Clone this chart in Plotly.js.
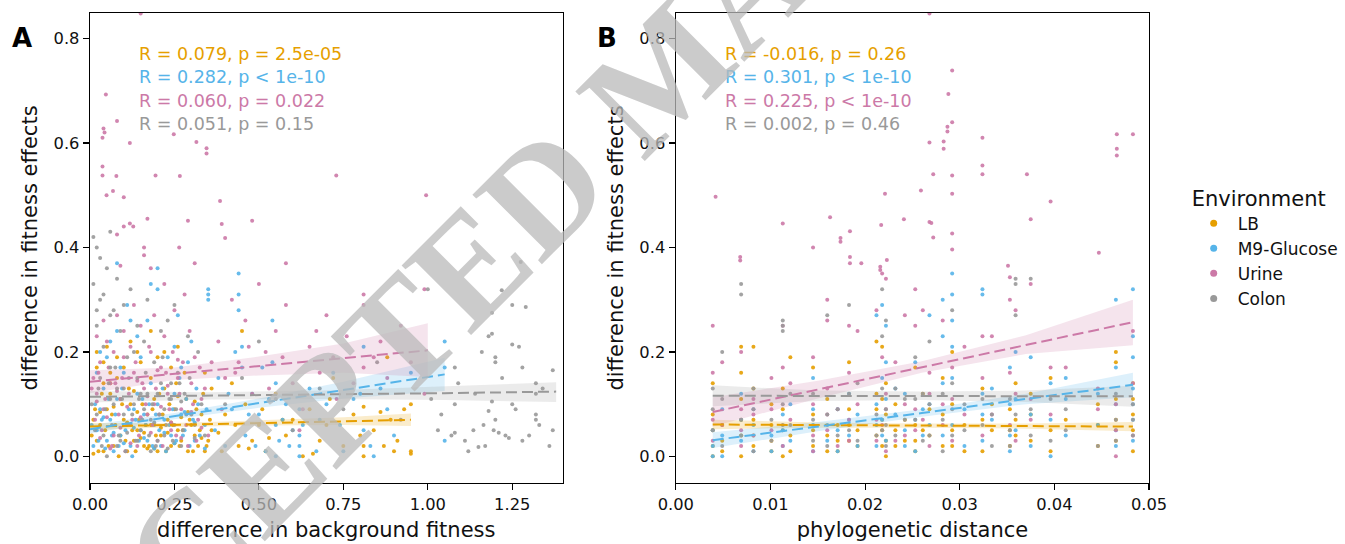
<!DOCTYPE html>
<html>
<head>
<meta charset="utf-8">
<script src="https://cdn.plot.ly/plotly-3.0.1.min.js"></script>
<style>html,body{margin:0;padding:0;background:#fff;}#chart{width:1345px;height:544px;}</style>
</head>
<body>
<div id="chart"></div>
<script>
// ---------- categories ----------
const environments = ["LB", "M9-Glucose", "Urine", "Colon"];
const envColors = ["#E69F00", "#56B4E9", "#CC79A7", "#999999"];

// ---------- panel A points: [difference in background fitness, difference in fitness effects] ----------
const lbA = [[0.01,0.005],[0.02,0.03],[0.03,0.06],[0.04,0.01],[0.05,0.09],[0.06,0.12],[0.07,0.02],[0.08,0.15],[0.09,0.04],[0.10,0.07],[0.11,0.01],[0.12,0.10],[0.13,0.03],[0.14,0.05],[0.15,0.18],[0.16,0.02],[0.17,0.08],[0.18,0.06],[0.19,0.11],[0.20,0.01],[0.21,0.04],[0.22,0.13],[0.23,0.07],[0.24,0.02],[0.25,0.09],[0.26,0.05],[0.27,0.03],[0.28,0.16],[0.29,0.01],[0.30,0.06],[0.31,0.04],[0.32,0.02],[0.33,0.08],[0.34,0.01],[0.35,0.03],[0.36,0.05],[0.02,0.17],[0.05,0.21],[0.08,0.19],[0.12,0.22],[0.18,0.24],[0.22,0.20],[0.03,0.085],[0.07,0.095],[0.11,0.065],[0.15,0.035],[0.19,0.015],[0.23,0.045],[0.27,0.075],[0.31,0.105],[0.04,0.14],[0.09,0.11],[0.13,0.125],[0.17,0.015],[0.21,0.055],[0.25,0.025],[0.29,0.085],[0.33,0.035],[0.38,0.045],[0.40,0.08],[0.42,0.14],[0.44,0.02],[0.46,0.10],[0.48,0.03],[0.50,0.06],[0.52,0.01],[0.55,0.12],[0.58,0.04],[0.60,0.07],[0.63,0.0],[0.65,0.09],[0.68,0.03],[0.70,0.06],[0.72,0.15],[0.75,0.02],[0.78,0.08],[0.81,0.0],[0.81,0.02],[0.81,0.095],[0.84,0.05],[0.87,0.02],[0.88,0.19],[0.89,0.07],[0.90,0.01],[0.95,0.005],[0.95,0.10],[0.95,0.01],[0.93,0.09],[0.45,0.24],[0.36,0.13],[0.06,0.14],[0.01,0.07],[0.14,0.085],[0.26,0.115],[0.34,0.16],[0.16,0.045],[0.24,0.065]];
const lbA2 = [[0.005,0.04],[0.015,0.09],[0.025,0.01],[0.035,0.12],[0.045,0.05],[0.055,0.02],[0.065,0.08],[0.075,0.06],[0.085,0.0],[0.095,0.10],[0.105,0.03],[0.115,0.13],[0.125,0.05],[0.135,0.01],[0.145,0.07],[0.155,0.10],[0.165,0.06],[0.175,0.02],[0.185,0.09],[0.195,0.04],[0.205,0.12],[0.215,0.08],[0.225,0.01],[0.235,0.10],[0.245,0.06],[0.255,0.14],[0.265,0.02],[0.275,0.05],[0.285,0.11],[0.295,0.07],[0.305,0.01],[0.315,0.09],[0.325,0.05],[0.335,0.12],[0.345,0.02],[0.355,0.07],[0.02,0.20],[0.04,0.18],[0.06,0.16],[0.10,0.17],[0.14,0.20],[0.18,0.15],[0.20,0.19],[0.24,0.17],[0.26,0.21],[0.39,0.01],[0.43,0.06],[0.47,0.015],[0.51,0.09],[0.53,0.035],[0.57,0.07],[0.66,0.005],[0.71,0.11],[0.80,0.04],[0.86,0.085],[0.91,0.03]];
const m9A = [[0.01,0.02],[0.02,0.05],[0.03,0.09],[0.04,0.13],[0.05,0.03],[0.06,0.07],[0.07,0.01],[0.08,0.11],[0.09,0.04],[0.10,0.16],[0.11,0.06],[0.12,0.02],[0.13,0.09],[0.14,0.12],[0.15,0.05],[0.16,0.08],[0.17,0.03],[0.18,0.14],[0.19,0.06],[0.20,0.10],[0.21,0.02],[0.22,0.07],[0.23,0.19],[0.24,0.04],[0.25,0.12],[0.26,0.27],[0.27,0.08],[0.28,0.05],[0.30,0.22],[0.31,0.03],[0.32,0.10],[0.34,0.06],[0.35,0.30],[0.35,0.31],[0.35,0.32],[0.38,0.15],[0.40,0.02],[0.42,0.09],[0.44,0.35],[0.44,0.28],[0.45,0.21],[0.45,0.17],[0.46,0.04],[0.48,0.12],[0.50,0.08],[0.52,0.01],[0.54,0.26],[0.54,0.18],[0.55,0.14],[0.55,0.06],[0.55,0.0],[0.56,0.03],[0.58,0.10],[0.60,0.05],[0.62,0.0],[0.62,0.02],[0.62,0.04],[0.62,0.09],[0.65,0.13],[0.68,0.07],[0.72,0.16],[0.75,0.01],[0.78,0.11],[0.81,0.21],[0.81,0.05],[0.84,0.0],[0.86,0.13],[0.90,0.04],[0.95,0.16],[1.05,0.22],[1.05,0.03],[1.05,0.17],[0.02,0.16],[0.05,0.19],[0.08,0.24],[0.11,0.29],[0.14,0.23],[0.17,0.26],[0.20,0.32],[0.29,0.18],[0.04,0.075],[0.07,0.045],[0.10,0.025],[0.13,0.055],[0.16,0.035],[0.19,0.015],[0.22,0.045],[0.25,0.025],[0.28,0.085],[0.31,0.065],[0.34,0.015],[0.18,0.33],[0.08,0.37],[0.44,0.31],[0.20,0.36]];
const m9A2 = [[0.005,0.06],[0.015,0.10],[0.025,0.03],[0.035,0.07],[0.045,0.015],[0.055,0.11],[0.065,0.04],[0.075,0.08],[0.085,0.02],[0.095,0.13],[0.105,0.05],[0.115,0.09],[0.125,0.0],[0.135,0.07],[0.145,0.03],[0.155,0.11],[0.165,0.06],[0.175,0.10],[0.185,0.02],[0.195,0.08],[0.205,0.05],[0.215,0.13],[0.225,0.01],[0.235,0.06],[0.245,0.09],[0.255,0.03],[0.265,0.15],[0.275,0.04],[0.285,0.11],[0.295,0.02],[0.305,0.07],[0.315,0.13],[0.325,0.04],[0.345,0.09],[0.03,0.20],[0.06,0.22],[0.09,0.17],[0.12,0.26],[0.15,0.19],[0.25,0.21],[0.27,0.17],[0.37,0.05],[0.41,0.12],[0.43,0.20],[0.47,0.08],[0.49,0.02],[0.51,0.17],[0.53,0.11],[0.57,0.07],[0.59,0.02],[0.63,0.06],[0.67,0.01],[0.70,0.10],[0.74,0.06],[0.80,0.12],[0.83,0.02],[0.88,0.09]];
const urineA = [[0.047,0.693],[0.04,0.628],[0.043,0.62],[0.037,0.61],[0.08,0.642],[0.118,0.60],[0.037,0.555],[0.037,0.538],[0.078,0.537],[0.194,0.538],[0.266,0.537],[0.049,0.50],[0.068,0.508],[0.10,0.496],[0.315,0.602],[0.345,0.58],[0.345,0.59],[0.248,0.617],[0.385,0.489],[0.729,0.538],[0.995,0.50],[0.118,0.446],[0.128,0.44],[0.17,0.455],[0.29,0.451],[0.39,0.445],[0.40,0.418],[0.48,0.451],[0.08,0.425],[0.10,0.44],[0.16,0.40],[0.16,0.385],[0.264,0.40],[0.31,0.37],[0.18,0.36],[0.58,0.37],[0.09,0.365],[0.15,0.848],
[0.01,0.15],[0.02,0.12],[0.03,0.18],[0.04,0.09],[0.05,0.22],[0.06,0.14],[0.07,0.04],[0.08,0.27],[0.09,0.11],[0.10,0.19],[0.11,0.06],[0.12,0.21],[0.13,0.16],[0.14,0.02],[0.15,0.25],[0.16,0.13],[0.17,0.08],[0.18,0.20],[0.19,0.10],[0.20,0.03],[0.21,0.17],[0.22,0.23],[0.23,0.12],[0.24,0.05],[0.25,0.28],[0.26,0.15],[0.27,0.09],[0.28,0.31],[0.29,0.02],[0.30,0.14],[0.31,0.19],[0.32,0.07],[0.33,0.11],[0.35,0.04],[0.38,0.22],[0.40,0.15],[0.42,0.30],[0.44,0.18],[0.46,0.26],[0.48,0.12],[0.50,0.33],[0.52,0.20],[0.55,0.24],[0.58,0.29],[0.60,0.14],[0.62,0.05],[0.65,0.21],[0.68,0.16],[0.70,0.27],[0.73,0.11],[0.76,0.23],[0.81,0.29],[0.81,0.31],[0.81,0.17],[0.84,0.19],[0.88,0.15],[0.92,0.25],[0.99,0.32],[0.99,0.12],[0.03,0.035],[0.06,0.015],[0.09,0.055],[0.12,0.025],[0.15,0.075],[0.18,0.045],[0.21,0.095],[0.24,0.065],[0.27,0.035],[0.30,0.085],[0.33,0.055],[0.02,0.105],[0.05,0.075],[0.08,0.125],[0.11,0.095],[0.14,0.145],[0.17,0.115],[0.20,0.165],[0.23,0.135],[0.26,0.185]];
const urineA2 = [[0.005,0.13],[0.015,0.07],[0.025,0.16],[0.035,0.05],[0.045,0.11],[0.055,0.17],[0.065,0.02],[0.075,0.14],[0.085,0.08],[0.095,0.15],[0.105,0.01],[0.115,0.12],[0.125,0.07],[0.135,0.18],[0.145,0.04],[0.155,0.14],[0.165,0.10],[0.175,0.21],[0.185,0.06],[0.195,0.13],[0.205,0.08],[0.215,0.02],[0.225,0.16],[0.235,0.09],[0.245,0.20],[0.255,0.04],[0.265,0.12],[0.275,0.18],[0.285,0.06],[0.295,0.24],[0.305,0.10],[0.315,0.03],[0.325,0.17],[0.34,0.13],[0.02,0.23],[0.04,0.26],[0.07,0.20],[0.10,0.24],[0.13,0.29],[0.19,0.27],[0.22,0.33],[0.36,0.18],[0.39,0.09],[0.43,0.16],[0.47,0.21],[0.53,0.13],[0.57,0.19],[0.63,0.09],[0.67,0.24],[0.72,0.19],[0.78,0.14],[0.86,0.22],[0.95,0.18]];
const colonA = [[1.275,0.372],[1.219,0.318],[1.25,0.29],[1.29,0.286],[1.19,0.275],[1.19,0.235],[1.18,0.23],[1.16,0.20],[1.20,0.19],[1.20,0.18],[1.25,0.214],[1.27,0.21],[1.28,0.17],[1.37,0.165],[1.32,0.14],[1.32,0.12],[1.19,0.105],[1.18,0.087],[1.25,0.10],[1.32,0.08],[1.32,0.07],[1.20,0.07],[1.165,0.06],[1.195,0.05],[1.21,0.045],[1.23,0.04],[1.24,0.035],[1.135,0.05],[1.15,0.018],[1.37,0.05],[1.08,0.17],[1.08,0.10],[1.08,0.045],[1.03,0.05],[1.00,0.32],[1.07,0.04],[1.12,0.01],[1.33,0.06],
[0.01,0.33],[0.02,0.25],[0.03,0.30],[0.04,0.21],[0.05,0.36],[0.06,0.17],[0.07,0.28],[0.08,0.13],[0.09,0.24],[0.10,0.08],[0.11,0.19],[0.12,0.32],[0.13,0.10],[0.14,0.15],[0.15,0.05],[0.16,0.22],[0.17,0.12],[0.18,0.07],[0.19,0.18],[0.20,0.03],[0.21,0.14],[0.22,0.09],[0.23,0.26],[0.24,0.11],[0.25,0.06],[0.26,0.16],[0.27,0.02],[0.28,0.12],[0.30,0.08],[0.32,0.20],[0.34,0.04],[0.02,0.08],[0.04,0.04],[0.06,0.11],[0.08,0.02],[0.10,0.13],[0.12,0.06],[0.14,0.03],[0.16,0.09],[0.18,0.01],[0.20,0.12],[0.22,0.04],[0.24,0.14],[0.03,0.15],[0.07,0.10],[0.11,0.045],[0.15,0.12],[0.19,0.065],[0.23,0.015],[0.27,0.105],[0.31,0.035],[0.05,0.0],[0.09,0.03],[0.13,0.20],[0.40,0.10],[0.45,0.15],[0.50,0.22],[0.55,0.11],[0.60,0.05],[0.68,0.13],[0.75,0.09],[0.85,0.18],[0.92,0.07],[0.01,0.42],[0.02,0.40],[0.03,0.38],[0.06,0.43]];
const colonA2 = [[0.005,0.10],[0.015,0.05],[0.025,0.13],[0.035,0.02],[0.045,0.09],[0.055,0.14],[0.065,0.06],[0.075,0.17],[0.085,0.04],[0.095,0.11],[0.105,0.01],[0.115,0.15],[0.125,0.08],[0.135,0.03],[0.145,0.11],[0.155,0.07],[0.165,0.16],[0.175,0.04],[0.185,0.10],[0.195,0.02],[0.205,0.08],[0.215,0.19],[0.225,0.06],[0.235,0.11],[0.245,0.03],[0.255,0.09],[0.265,0.14],[0.275,0.05],[0.285,0.08],[0.295,0.15],[0.31,0.06],[0.33,0.10],[0.02,0.28],[0.04,0.31],[0.06,0.27],[0.08,0.34],[0.10,0.29],[0.14,0.25],[0.17,0.30],[0.21,0.24],[0.25,0.29],[0.29,0.23],[1.01,0.11],[1.04,0.08],[1.09,0.14],[1.11,0.03],[1.14,0.12],[1.22,0.15],[1.26,0.09],[1.30,0.04],[1.34,0.13],[1.36,0.02],[1.28,0.03],[1.17,0.02]];

// ---------- panel B points: [phylogenetic distance, difference in fitness effects] ----------
const lbB = [[0.0039,0.0],[0.0039,0.02],[0.0039,0.14],[0.0039,0.05],[0.0049,0.01],[0.0049,0.03],[0.0069,0.21],[0.0069,0.16],[0.0069,0.11],[0.0069,0.04],[0.0069,0.0],[0.0082,0.21],[0.0082,0.13],[0.0082,0.07],[0.0082,0.02],[0.0101,0.01],[0.0101,0.06],[0.0101,0.10],[0.0113,0.0],[0.0113,0.13],[0.0113,0.09],[0.0121,0.19],[0.0121,0.04],[0.0145,0.02],[0.0145,0.08],[0.0145,0.17],[0.016,0.04],[0.016,0.11],[0.0171,0.01],[0.0171,0.06],[0.0183,0.18],[0.0183,0.03],[0.0183,0.09],[0.0192,0.05],[0.0212,0.22],[0.0212,0.12],[0.0218,0.21],[0.0218,0.02],[0.0218,0.07],[0.0222,0.14],[0.0222,0.0],[0.0232,0.05],[0.0232,0.10],[0.0242,0.03],[0.0253,0.17],[0.0253,0.01],[0.0253,0.06],[0.0261,0.12],[0.0268,0.04],[0.0282,0.15],[0.0282,0.08],[0.0292,0.02],[0.0292,0.20],[0.0292,0.10],[0.0305,0.06],[0.0324,0.13],[0.0324,0.01],[0.0334,0.05],[0.0353,0.09],[0.0353,0.02],[0.0359,0.14],[0.0359,0.04],[0.0375,0.03],[0.0375,0.08],[0.0396,0.15],[0.0396,0.01],[0.0412,0.07],[0.0446,0.02],[0.0446,0.06],[0.0465,0.20],[0.0465,0.18],[0.0465,0.11],[0.0465,0.03],[0.0483,0.14],[0.0483,0.05],[0.0483,0.01],[0.0483,0.08]];
const lbB2 = [[0.0039,0.08],[0.0049,0.06],[0.0069,0.07],[0.0082,0.04],[0.0101,0.03],[0.0113,0.05],[0.0121,0.01],[0.0145,0.05],[0.016,0.01],[0.0171,0.03],[0.0183,0.06],[0.0192,0.02],[0.0212,0.04],[0.0212,0.09],[0.0218,0.05],[0.0218,0.11],[0.0222,0.03],[0.0222,0.08],[0.0232,0.02],[0.0242,0.07],[0.0253,0.03],[0.0261,0.05],[0.0268,0.09],[0.0282,0.02],[0.0292,0.05],[0.0305,0.01],[0.0324,0.07],[0.0334,0.10],[0.0353,0.05],[0.0359,0.07],[0.0375,0.12],[0.0396,0.05],[0.0446,0.10],[0.0465,0.07],[0.0483,0.11]];
const m9B = [[0.0039,0.0],[0.0039,0.05],[0.0049,0.0],[0.0049,0.09],[0.0069,0.03],[0.0069,0.12],[0.0082,0.06],[0.0082,0.01],[0.0101,0.04],[0.0113,0.08],[0.0113,0.02],[0.0121,0.10],[0.0145,0.15],[0.0145,0.01],[0.0145,0.06],[0.016,0.03],[0.0171,0.09],[0.0171,0.05],[0.0183,0.07],[0.0183,0.12],[0.0192,0.02],[0.0212,0.27],[0.0212,0.06],[0.0218,0.29],[0.0218,0.15],[0.0218,0.04],[0.0222,0.11],[0.0222,0.25],[0.0232,0.08],[0.0242,0.12],[0.0242,0.02],[0.0253,0.18],[0.0253,0.07],[0.0261,0.04],[0.0268,0.27],[0.0268,0.10],[0.0282,0.30],[0.0282,0.23],[0.0282,0.14],[0.0292,0.35],[0.0292,0.31],[0.0292,0.26],[0.0292,0.21],[0.0292,0.06],[0.0305,0.09],[0.0324,0.32],[0.0324,0.31],[0.0324,0.12],[0.0324,0.03],[0.0334,0.07],[0.0353,0.17],[0.0353,0.10],[0.0353,0.01],[0.0359,0.20],[0.0359,0.05],[0.0375,0.19],[0.0375,0.08],[0.0396,0.14],[0.0396,0.0],[0.0412,0.11],[0.0412,0.04],[0.0446,0.06],[0.0465,0.30],[0.0465,0.17],[0.0465,0.10],[0.0465,0.02],[0.0483,0.32],[0.0483,0.23],[0.0483,0.19],[0.0483,0.13],[0.0483,0.07],[0.0483,0.03]];
const m9B2 = [[0.0039,0.02],[0.0049,0.04],[0.0069,0.07],[0.0082,0.09],[0.0101,0.01],[0.0113,0.05],[0.0121,0.03],[0.0145,0.09],[0.016,0.06],[0.0171,0.01],[0.0183,0.04],[0.0192,0.08],[0.0212,0.02],[0.0212,0.10],[0.0218,0.07],[0.0222,0.03],[0.0222,0.18],[0.0232,0.13],[0.0242,0.05],[0.0253,0.01],[0.0261,0.09],[0.0268,0.06],[0.0282,0.04],[0.0292,0.15],[0.0305,0.02],[0.0324,0.08],[0.0334,0.13],[0.0353,0.04],[0.0359,0.11],[0.0375,0.02],[0.0396,0.07],[0.0412,0.15],[0.0446,0.12],[0.0465,0.05],[0.0483,0.10]];
const urineB = [[0.0042,0.497],[0.0113,0.446],[0.0068,0.382],[0.0068,0.375],[0.0145,0.40],[0.0163,0.458],[0.0174,0.418],[0.0174,0.411],[0.0184,0.431],[0.0184,0.382],[0.0184,0.37],[0.0196,0.37],[0.0217,0.443],[0.0221,0.503],[0.0216,0.363],[0.0216,0.357],[0.0223,0.376],[0.0241,0.454],[0.0259,0.509],[0.0268,0.601],[0.0268,0.449],[0.027,0.447],[0.0272,0.54],[0.0272,0.419],[0.0283,0.603],[0.0283,0.589],[0.0287,0.631],[0.0287,0.622],[0.0292,0.739],[0.0288,0.694],[0.0292,0.64],[0.0292,0.538],[0.0292,0.503],[0.0292,0.427],[0.0292,0.396],[0.0324,0.61],[0.0324,0.557],[0.0324,0.54],[0.0351,0.365],[0.0353,0.343],[0.0371,0.54],[0.0375,0.454],[0.0396,0.488],[0.0447,0.39],[0.0466,0.617],[0.0466,0.589],[0.0466,0.576],[0.0483,0.617],[0.0268,0.848],
[0.0039,0.25],[0.0039,0.16],[0.0039,0.07],[0.0049,0.18],[0.0069,0.20],[0.0069,0.09],[0.0069,0.02],[0.0082,0.11],[0.0082,0.04],[0.0101,0.15],[0.0101,0.05],[0.0113,0.25],[0.0113,0.17],[0.0121,0.14],[0.0145,0.19],[0.0145,0.10],[0.0145,0.01],[0.016,0.30],[0.016,0.26],[0.016,0.13],[0.016,0.05],[0.0171,0.09],[0.0183,0.25],[0.0183,0.16],[0.0183,0.03],[0.0192,0.24],[0.0212,0.28],[0.0212,0.07],[0.0218,0.35],[0.0218,0.19],[0.0222,0.34],[0.0222,0.12],[0.0222,0.01],[0.0232,0.18],[0.0242,0.27],[0.0242,0.04],[0.0253,0.32],[0.0253,0.25],[0.0253,0.09],[0.0261,0.28],[0.0268,0.16],[0.0268,0.02],[0.0282,0.26],[0.0282,0.06],[0.0292,0.17],[0.0292,0.11],[0.0305,0.21],[0.0324,0.23],[0.0324,0.15],[0.0334,0.23],[0.0334,0.08],[0.0353,0.30],[0.0353,0.16],[0.0359,0.28],[0.0359,0.12],[0.0375,0.33],[0.0375,0.07],[0.0396,0.17],[0.0412,0.17],[0.0446,0.09],[0.0465,0.05],[0.0465,0.0],[0.0483,0.14],[0.0483,0.24]];
const urineB2 = [[0.0039,0.03],[0.0049,0.06],[0.0069,0.05],[0.0082,0.08],[0.0101,0.09],[0.0113,0.02],[0.0121,0.07],[0.0145,0.04],[0.016,0.08],[0.0171,0.02],[0.0183,0.07],[0.0192,0.10],[0.0212,0.03],[0.0218,0.06],[0.0222,0.09],[0.0232,0.03],[0.0242,0.10],[0.0253,0.05],[0.0261,0.07],[0.0268,0.12],[0.0282,0.10],[0.0292,0.03],[0.0305,0.08],[0.0324,0.04],[0.0353,0.06],[0.0359,0.03],[0.0375,0.11],[0.0396,0.08],[0.0446,0.13],[0.0465,0.10],[0.0483,0.04]];
const colonB = [[0.0039,0.13],[0.0039,0.09],[0.0049,0.20],[0.0049,0.11],[0.0069,0.33],[0.0069,0.31],[0.0069,0.07],[0.0082,0.13],[0.0082,0.01],[0.0101,0.03],[0.0113,0.26],[0.0113,0.25],[0.0113,0.24],[0.0113,0.10],[0.0121,0.06],[0.0145,0.12],[0.0145,0.03],[0.016,0.27],[0.016,0.08],[0.0171,0.04],[0.0183,0.29],[0.0183,0.12],[0.0192,0.14],[0.0212,0.04],[0.0218,0.32],[0.0218,0.23],[0.0222,0.26],[0.0222,0.09],[0.0222,0.02],[0.0232,0.13],[0.0242,0.07],[0.0253,0.19],[0.0253,0.11],[0.0261,0.03],[0.0268,0.22],[0.0268,0.10],[0.0282,0.12],[0.0282,0.01],[0.0292,0.28],[0.0292,0.14],[0.0292,0.04],[0.0305,0.10],[0.0324,0.06],[0.0334,0.02],[0.0353,0.11],[0.0353,0.05],[0.0359,0.34],[0.0359,0.33],[0.0359,0.27],[0.0375,0.34],[0.0375,0.09],[0.0396,0.11],[0.0412,0.09],[0.0446,0.02],[0.0465,0.07],[0.0465,0.12],[0.0483,0.10],[0.0483,0.04]];
const colonB2 = [[0.0039,0.05],[0.0049,0.02],[0.0069,0.04],[0.0082,0.09],[0.0101,0.07],[0.0113,0.06],[0.0121,0.12],[0.0145,0.07],[0.016,0.02],[0.0171,0.09],[0.0183,0.05],[0.0192,0.03],[0.0212,0.08],[0.0218,0.05],[0.0218,0.13],[0.0222,0.06],[0.0232,0.04],[0.0242,0.11],[0.0253,0.07],[0.0261,0.12],[0.0268,0.04],[0.0282,0.07],[0.0292,0.09],[0.0305,0.05],[0.0324,0.11],[0.0334,0.08],[0.0353,0.02],[0.0359,0.08],[0.0375,0.04],[0.0396,0.03],[0.0412,0.05],[0.0465,0.03],[0.0483,0.07]];

// ---------- regression fits: x, fitted value, lower CI, upper CI ----------
const fitA_LB    = {x:[0,0.25,0.5,0.75,0.95], y:[0.057,0.060,0.064,0.067,0.070], lo:[0.050,0.056,0.059,0.060,0.058], hi:[0.064,0.064,0.069,0.075,0.082]};
const fitA_M9    = {x:[0,0.25,0.5,0.75,1.05], y:[0.052,0.077,0.102,0.127,0.157], lo:[0.044,0.071,0.093,0.111,0.125], hi:[0.060,0.083,0.111,0.143,0.189]};
const fitA_Urine = {x:[0,0.25,0.5,0.75,1.0],  y:[0.143,0.158,0.173,0.188,0.203], lo:[0.121,0.146,0.155,0.160,0.152], hi:[0.165,0.170,0.191,0.216,0.255]};
const fitA_Colon = {x:[0,0.35,0.7,1.05,1.38], y:[0.114,0.116,0.118,0.121,0.124], lo:[0.103,0.109,0.110,0.108,0.104], hi:[0.125,0.123,0.126,0.134,0.142]};
const fitB_LB    = {x:[0.0039,0.015,0.026,0.037,0.0483], y:[0.061,0.060,0.059,0.058,0.057], lo:[0.052,0.055,0.055,0.053,0.048], hi:[0.070,0.065,0.063,0.063,0.066]};
const fitB_M9    = {x:[0.0039,0.015,0.026,0.037,0.0483], y:[0.031,0.057,0.083,0.110,0.137], lo:[0.016,0.048,0.076,0.100,0.113], hi:[0.046,0.066,0.090,0.120,0.160]};
const fitB_Urine = {x:[0.0039,0.015,0.026,0.037,0.0483], y:[0.085,0.128,0.171,0.214,0.257], lo:[0.057,0.111,0.160,0.196,0.213], hi:[0.113,0.145,0.182,0.232,0.300]};
const fitB_Colon = {x:[0.0039,0.015,0.026,0.037,0.0483], y:[0.116,0.116,0.116,0.115,0.115], lo:[0.096,0.106,0.108,0.104,0.095], hi:[0.136,0.126,0.124,0.126,0.135]};

// ---------- correlation labels ----------
const statsA = ["R = 0.079, p = 2.5e-05", "R = 0.282, p < 1e-10", "R = 0.060, p = 0.022", "R = 0.051, p = 0.15"];
const statsB = ["R = -0.016, p = 0.26", "R = 0.301, p < 1e-10", "R = 0.225, p < 1e-10", "R = 0.002, p = 0.46"];

// ---------- tick values ----------
const xTicksA = [0, 0.25, 0.5, 0.75, 1.0, 1.25];
const xTicksB = [0, 0.01, 0.02, 0.03, 0.04, 0.05];
const yTicks = [0, 0.2, 0.4, 0.6, 0.8];

const pointsA = [lbA.concat(lbA2), m9A.concat(m9A2), urineA.concat(urineA2), colonA.concat(colonA2)];
const pointsB = [lbB.concat(lbB2), m9B.concat(m9B2), urineB.concat(urineB2), colonB.concat(colonB2)];
const fitsA = [fitA_LB, fitA_M9, fitA_Urine, fitA_Colon];
const fitsB = [fitB_LB, fitB_M9, fitB_Urine, fitB_Colon];

function rgba(hex, a) {
  const r = parseInt(hex.slice(1,3),16), g = parseInt(hex.slice(3,5),16), b = parseInt(hex.slice(5,7),16);
  return `rgba(${r},${g},${b},${a})`;
}

const traces = [];
[[pointsA, 'x', 'y'], [pointsB, 'x2', 'y2']].forEach(([pts, xa, ya]) => {
  pts.forEach((arr, i) => {
    traces.push({type:'scatter', mode:'markers', xaxis:xa, yaxis:ya, showlegend:false, hoverinfo:'skip',
      x: arr.map(p => p[0]), y: arr.map(p => p[1]),
      marker:{size:4, color:envColors[i], opacity:0.9, line:{width:0}}});
  });
});
[[fitsA, 'x', 'y'], [fitsB, 'x2', 'y2']].forEach(([fits, xa, ya]) => {
  fits.forEach((f, i) => {
    traces.push({type:'scatter', mode:'lines', xaxis:xa, yaxis:ya, showlegend:false, hoverinfo:'skip',
      x: f.x, y: f.lo, line:{width:0, color:rgba(envColors[i],0)}});
    traces.push({type:'scatter', mode:'lines', xaxis:xa, yaxis:ya, showlegend:false, hoverinfo:'skip',
      x: f.x, y: f.hi, fill:'tonexty', fillcolor:rgba(envColors[i],0.2), line:{width:0, color:rgba(envColors[i],0)}});
  });
  fits.forEach((f, i) => {
    traces.push({type:'scatter', mode:'lines', xaxis:xa, yaxis:ya, showlegend:false, hoverinfo:'skip',
      x: f.x, y: f.y, line:{width:2, color:envColors[i], dash:'11px,5px'}});
  });
});
// legend entries
environments.forEach((name, i) => {
  traces.push({type:'scatter', mode:'markers', x:[null], y:[null], name:name, showlegend:true, legendgroup:'g'+i,
    marker:{size:7, color:envColors[i]}});
});

const FONT = 'DejaVu Sans, sans-serif';
const tickFont = {family:FONT, size:16.3, color:'#111'};
const titleFont = {family:FONT, size:21, color:'#111'};
const yRange = [-0.051, 0.849];
function axisCommon() {
  return {showline:true, mirror:true, linecolor:'#000', linewidth:1.3, ticks:'outside', ticklen:6, tickwidth:1.2,
    tickcolor:'#000', showgrid:false, zeroline:false, tickfont:tickFont, fixedrange:true};
}

const PL = 90, PR = 1149.3, PT = 12.7, PB = 482.7;
const PW = PR - PL, PH = PB - PT;
const px = v => (v - PL) / PW;
const py = v => (PB - v) / PH;
const annotations = [];
const statY = [53.5, 77, 100.5, 124];
statsA.forEach((t, i) => annotations.push({xref:'paper', yref:'paper', x:px(137), y:py(statY[i]), text:t,
  showarrow:false, xanchor:'left', yanchor:'middle', font:{family:FONT, size:17.5, color:envColors[i]}}));
statsB.forEach((t, i) => annotations.push({xref:'paper', yref:'paper', x:px(723), y:py(statY[i]), text:t,
  showarrow:false, xanchor:'left', yanchor:'middle', font:{family:FONT, size:17.5, color:envColors[i]}}));
annotations.push({xref:'paper', yref:'paper', x:px(22), y:py(38), text:'<b>A</b>', showarrow:false,
  xanchor:'center', yanchor:'middle', font:{family:FONT, size:26, color:'#000'}});
annotations.push({xref:'paper', yref:'paper', x:px(607), y:py(38), text:'<b>B</b>', showarrow:false,
  xanchor:'center', yanchor:'middle', font:{family:FONT, size:26, color:'#000'}});
// watermark
annotations.push({xref:'paper', yref:'paper', x:px(662), y:py(72), text:'<b>ACCEPTED MANUSCRIPT</b>', showarrow:false,
  xanchor:'center', yanchor:'middle', textangle:-45, font:{family:'Liberation Serif, serif', size:150, color:'rgba(185,185,185,0.75)'}});

const layout = {
  width:1345, height:544,
  margin:{l:PL, r:1345-PR, t:PT, b:544-PB, autoexpand:false},
  paper_bgcolor:'#fff', plot_bgcolor:'#fff',
  showlegend:true,
  legend:{x:px(1190), y:py(178), xanchor:'left', yanchor:'top', bgcolor:'rgba(0,0,0,0)',
    traceorder:'normal', itemwidth:38,
    title:{text:'Environment', font:{family:FONT, size:21, color:'#111'}},
    font:{family:FONT, size:17, color:'#111'}, tracegroupgap:3, itemsizing:'trace'},
  xaxis:Object.assign(axisCommon(), {domain:[0, px(562.7)], range:[0, 1.399], tickvals:xTicksA, tickformat:'.2f',
    title:{text:'difference in background fitness', font:titleFont, standoff:9}}),
  yaxis:Object.assign(axisCommon(), {domain:[0,1], range:yRange, tickvals:yTicks, tickformat:'.1f',
    title:{text:'difference in fitness effects', font:titleFont, standoff:10}}),
  xaxis2:Object.assign(axisCommon(), {domain:[px(676), 1], range:[0, 0.05], tickvals:xTicksB, tickformat:'.2f', anchor:'y2',
    title:{text:'phylogenetic distance', font:titleFont, standoff:9}}),
  yaxis2:Object.assign(axisCommon(), {domain:[0,1], range:yRange, tickvals:yTicks, tickformat:'.1f', anchor:'x2',
    title:{text:'difference in fitness effects', font:titleFont, standoff:10}}),
  annotations:annotations
};

Plotly.newPlot('chart', traces, layout, {staticPlot:true, displayModeBar:false});
</script>
</body>
</html>
